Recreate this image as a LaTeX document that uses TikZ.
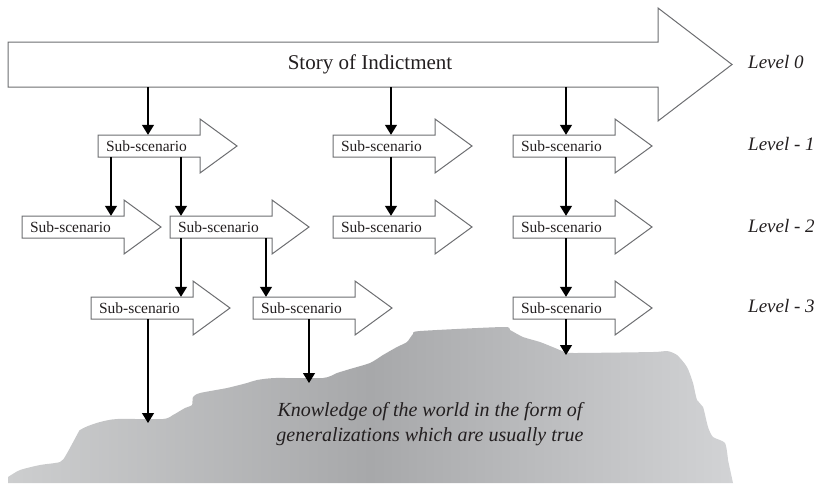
\documentclass[tikz,border=0pt]{standalone}
\usepackage{fontspec}
\setmainfont{Liberation Serif}
\usetikzlibrary{arrows.meta}
\definecolor{outl}{HTML}{6D6E71}
\definecolor{txt}{HTML}{231F20}
\definecolor{gl}{HTML}{CDCECF}
\definecolor{gm}{HTML}{A7A8AA}
\definecolor{gr}{HTML}{D2D3D5}
\tikzset{
  shapeline/.style={draw=outl, line width=1pt, fill=white, line join=miter},
  ssbox/.style={inner sep=0pt, minimum width=102pt, minimum height=22pt, text width=86pt, align=left, font=\fontsize{15.5}{18}\selectfont, text=txt},
  conn/.style={draw=black, line width=1.2pt, -{Triangle[length=10pt,width=12pt]}},
  lvl/.style={font=\fontsize{19}{22}\selectfont\itshape, text=txt, anchor=base west, inner sep=0pt},
}
\newcommand\subarrow[3]{%
  \draw[shapeline] (#2,#3-11) -- (#2+102,#3-11) -- (#2+102,#3-27) -- (#2+139,#3) -- (#2+102,#3+27) -- (#2+102,#3+11) -- (#2,#3+11) -- cycle;
  \node[ssbox] (#1) at (#2+51,#3) {Sub-scenario};
}
\begin{document}
\begin{tikzpicture}[x=1pt, y=-1pt]
\useasboundingbox (0,0) rectangle (821,483);
% ground
\shade[left color=gl, right color=gr, middle color=gm]
  (8,483) -- plot[smooth, tension=0.4] coordinates {
  (8,477) (20,470) (40,465) (60,462) (66,455) (78,433) (80,430) (88,426) (100,422) (117,419)
  (163,419) (173,415) (185,408) (192,405) (193,397) (200,393) (227,388) (247,383) (257,380) (275,378)
  (323,378) (337,373) (350,369) (370,363) (383,355) (397,347) (407,342) (413,334) (420,331)
  (503,327) (510,330) (523,337) (540,342) (555,348) (565,352) (575,353) (653,352) (667,351)
  (677,355) (687,367) (693,383) (697,400) (703,407) (708,427) (713,437) (725,443) (728,460)}
  -- (733,483) -- cycle;
\node[font=\fontsize{20}{25}\selectfont\itshape, text=txt, align=center] (kn) at (430,424)
  {Knowledge of the world in the form of\\generalizations which are usually true};
% level 0
\draw[shapeline] (8,42) -- (658,42) -- (658,8) -- (732,64.5) -- (658,121) -- (658,87) -- (8,87) -- cycle;
\node[font=\fontsize{21}{24}\selectfont, text=txt, minimum height=45pt, inner sep=0pt] (story) at (370,64.5) {Story of Indictment};
% sub-scenarios
\subarrow{L1a}{98}{146}
\subarrow{L1b}{333}{146}
\subarrow{L1c}{513}{146}
\subarrow{L2a}{22}{227}
\subarrow{L2b}{170}{227}
\subarrow{L2c}{333}{227}
\subarrow{L2d}{513}{227}
\subarrow{L3a}{91}{308}
\subarrow{L3b}{253}{308}
\subarrow{L3c}{513}{308}
% levels
\node[lvl] (lv0) at (748,68) {Level 0};
\node[lvl] (lv1) at (748,150) {Level - 1};
\node[lvl] (lv2) at (748,232) {Level - 2};
\node[lvl] (lv3) at (748,312) {Level - 3};
% x references and ground ends
\coordinate (c148) at (148,0);
\coordinate (c391) at (391,0);
\coordinate (c566) at (566,0);
\coordinate (c111) at (111,0);
\coordinate (c181) at (181,0);
\coordinate (c266) at (266,0);
\coordinate (g1) at (148,423);
\coordinate (g2) at (309,383);
\coordinate (g3) at (566,355);
% connectors
\draw[conn] (story.south -| c148) -- (L1a.north -| c148);
\draw[conn] (story.south -| c391) -- (L1b.north -| c391);
\draw[conn] (story.south -| c566) -- (L1c.north -| c566);
\draw[conn] (L1a.south -| c111) -- (L2a.north -| c111);
\draw[conn] (L1a.south -| c181) -- (L2b.north -| c181);
\draw[conn] (L1b.south -| c391) -- (L2c.north -| c391);
\draw[conn] (L1c.south -| c566) -- (L2d.north -| c566);
\draw[conn] (L2b.south -| c181) -- (L3a.north -| c181);
\draw[conn] (L2b.south -| c266) -- (L3b.north -| c266);
\draw[conn] (L2d.south -| c566) -- (L3c.north -| c566);
\draw[conn] (L3a.south -| g1) -- (g1);
\draw[conn] (L3b.south -| g2) -- (g2);
\draw[conn] (L3c.south -| g3) -- (g3);
\end{tikzpicture}
\end{document}
